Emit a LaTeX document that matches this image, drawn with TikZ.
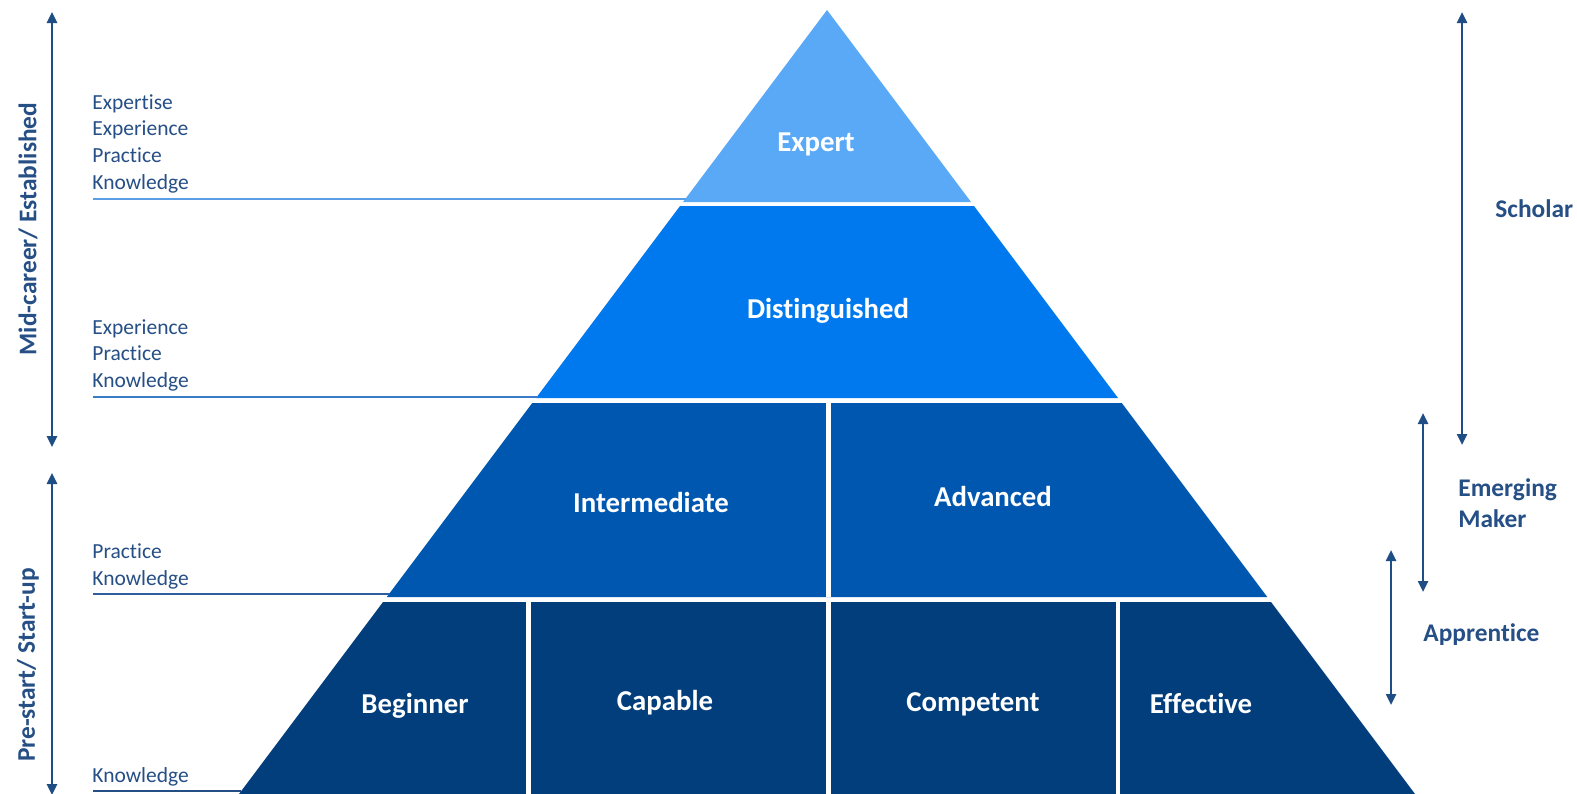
\documentclass[tikz,border=0pt]{standalone}
\usepackage{fontspec}
\setmainfont{Carlito}[Ligatures={NoCommon}]
\usetikzlibrary{arrows.meta}
\definecolor{cExpert}{HTML}{5AA9F7}
\definecolor{cDist}{HTML}{0079EE}
\definecolor{cInter}{HTML}{0057B0}
\definecolor{cBase}{HTML}{023E7C}
\definecolor{cText}{HTML}{264F86}
\definecolor{cArrow}{HTML}{1F4E84}
\definecolor{cG1}{HTML}{5A9FE6}
\definecolor{cG2}{HTML}{3A7CC8}
\definecolor{cG3}{HTML}{2E5E9E}
\definecolor{cG4}{HTML}{234F86}
\begin{document}
\begin{tikzpicture}[x=0.5pt,y=-0.5pt,
  lvl/.style={font=\fontsize{14.4}{16}\selectfont\bfseries, text=white, anchor=base, inner sep=0},
  side/.style={font=\fontsize{10.75}{13}\selectfont, text=cText, anchor=base west, inner sep=0},
  role/.style={font=\fontsize{12.7}{15.5}\selectfont\bfseries, text=cText, inner sep=0, align=left},
  span/.style={draw=cArrow, line width=1.25pt, {Triangle[width=5pt,length=5.5pt]}-{Triangle[width=5pt,length=5.5pt]}},
  gap/.style={draw=white, line width=2.3pt},
  guide/.style={line width=1pt}
]
\useasboundingbox (0,0) rectangle (1577,793);
\fill[white] (0,0) rectangle (1577,793);

% pyramid bands
\fill[cExpert] (827,10) -- (971,202) -- (683,202) -- cycle;
\fill[cDist] (680,206) -- (974,206) -- (1118,398) -- (536,398) -- cycle;
\fill[cInter] (532.25,403) -- (1121.75,403) -- (1267.25,597) -- (386.75,597) -- cycle;
\fill[cBase] (383,602) -- (1271,602) -- (1419.5,800) -- (234.5,800) -- cycle;

% cell dividers
\draw[gap] (828.5,403) -- (828.5,597);
\draw[gap] (528.5,602) -- (528.5,800);
\draw[gap] (828.5,602) -- (828.5,800);
\draw[gap] (1118,602) -- (1118,800);

% guide lines
\coordinate (g1a) at (93,199);   \coordinate (g1b) at (685.5,199);
\coordinate (g2a) at (93,396.5); \coordinate (g2b) at (537.5,396.5);
\coordinate (g3a) at (93,593.5); \coordinate (g3b) at (390,593.5);
\coordinate (g4a) at (93,791);   \coordinate (g4b) at (241,791);
\draw[guide, cG1] (g1a) -- (g1b);
\draw[guide, cG2] (g2a) -- (g2b);
\draw[guide, cG3] (g3a) -- (g3b);
\draw[guide, cG4] (g4a) -- (g4b);

% level labels
\node[lvl] (expert) at (816,151) {Expert};
\node[lvl] (dist) at (828,318) {Distinguished};
\node[lvl] (inter) at (651,512) {Intermediate};
\node[lvl] (adv) at (993,506) {Advanced};
\node[lvl] (beg) at (415,713) {Beginner};
\node[lvl] (cap) at (665,710) {Capable};
\node[lvl] (comp) at (973,711) {Competent};
\node[lvl] (eff) at (1201,713) {Effective};

% side lists
\node[side] (a1) at (92,109) {Expertise};
\node[side] (a2) at (92,135.7) {Experience};
\node[side] (a3) at (92,162.4) {Practice};
\node[side] (a4) at (92,189.1) {Knowledge};
\node[side] (b1) at (92,334) {Experience};
\node[side] (b2) at (92,360.7) {Practice};
\node[side] (b3) at (92,387.4) {Knowledge};
\node[side] (c1) at (92,558.5) {Practice};
\node[side] (c2) at (92,585.2) {Knowledge};
\node[side] (d1) at (92,782) {Knowledge};

% left stage arrows
\coordinate (l1t) at (52,12);  \coordinate (l1b) at (52,447);
\coordinate (l2t) at (52,473); \coordinate (l2b) at (52,795);
\draw[span] (l1t) -- (l1b);
\draw[span] (l2t) -- (l2b);
\node[role, rotate=90] (mid) at (28,229) {Mid-career/ Established};
\node[role, rotate=90] (pre) at (28,665) {Pre-start/ Start-up};

% right role arrows
\coordinate (r1t) at (1462,12);  \coordinate (r1b) at (1462,445);
\coordinate (r2t) at (1423,413); \coordinate (r2b) at (1423,592);
\coordinate (r3t) at (1391,550); \coordinate (r3b) at (1391,705);
\draw[span] (r1t) -- (r1b);
\draw[span] (r2t) -- (r2b);
\draw[span] (r3t) -- (r3b);
\node[role, anchor=base west] (scholar) at (1495,217) {Scholar};
\node[role, anchor=west] (emerg) at (1458,503) {Emerging\\Maker};
\node[role, anchor=base west] (appr) at (1423,641) {Apprentice};
\end{tikzpicture}
\end{document}
